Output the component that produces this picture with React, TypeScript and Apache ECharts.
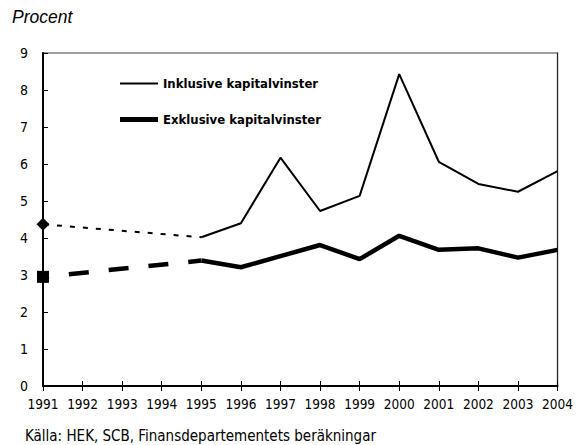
import React, { useEffect, useRef } from "react";
import * as echarts from "echarts";

const years = ["1991","1992","1993","1994","1995","1996","1997","1998","1999","2000","2001","2002","2003","2004"];
const inklusive = [null, null, null, null, 4.02, 4.40, 6.17, 4.73, 5.14, 8.43, 6.06, 5.46, 5.25, 5.81];
const exklusive = [null, null, null, null, 3.39, 3.21, 3.51, 3.81, 3.43, 4.06, 3.68, 3.72, 3.47, 3.68];
const inklusiveEarly = [4.37, null, null, null, 4.02, null, null, null, null, null, null, null, null, null];
const exklusiveEarly = [2.95, null, null, null, 3.39, null, null, null, null, null, null, null, null, null];
const yTicks = [0, 9, 1];

const NARROW = "'Liberation Sans Narrow', 'Arial Narrow', 'DejaVu Sans Condensed', sans-serif";
const INK = "Inklusive kapitalvinster";
const EXK = "Exklusive kapitalvinster";

function early(vals: (number | null)[], sym: string, size: number) {
  return vals.map((v, i) =>
    v === null ? "-" : i === 0 ? { value: v, symbol: sym, symbolSize: size } : { value: v, symbol: "none" }
  );
}

export default function App() {
  const ref = useRef<HTMLDivElement>(null);
  useEffect(() => {
    if (!ref.current) return;
    const chart = echarts.init(ref.current, undefined, { renderer: "svg" });
    chart.setOption({
      animation: false,
      backgroundColor: "#fff",
      title: [
        { text: "Procent", left: 12, top: 8, padding: 0, textStyle: { fontFamily: "'Liberation Sans', Arial, sans-serif", fontStyle: "italic", fontWeight: "normal", fontSize: 17.5, color: "#000" } },
        { text: "Källa: HEK, SCB, Finansdepartementets beräkningar", left: 25, top: 428, padding: 0, textStyle: { fontFamily: NARROW, fontWeight: "normal", fontSize: 15, color: "#000" } },
      ],
      legend: [
        { data: [INK], left: 120, top: 77, padding: 0, itemWidth: 38, itemHeight: 2, icon: "rect", textStyle: { fontFamily: NARROW, fontWeight: "bold", fontSize: 13, color: "#000" } },
        { data: [EXK], left: 120, top: 113, padding: 0, itemWidth: 38, itemHeight: 5, icon: "rect", textStyle: { fontFamily: NARROW, fontWeight: "bold", fontSize: 13, color: "#000" } },
      ],
      grid: { left: 43, right: 15, top: 53, bottom: 59, show: true, borderColor: "#808080", borderWidth: 1.5, backgroundColor: "transparent" },
      xAxis: [
        {
          type: "category", data: years, boundaryGap: false, position: "bottom",
          axisLine: { lineStyle: { color: "#000", width: 2 } },
          axisTick: { show: true, length: 5, interval: 0, lineStyle: { color: "#000", width: 1 } },
          axisLabel: { fontFamily: NARROW, fontSize: 13.5, color: "#000", margin: 11, interval: 0 },
          splitLine: { show: false },
        },
        {
          type: "category", data: years, boundaryGap: false, position: "bottom",
          axisLine: { show: false },
          axisTick: { show: true, inside: true, length: 5, interval: 0, lineStyle: { color: "#000", width: 1 } },
          axisLabel: { show: false },
          splitLine: { show: false },
        },
      ],
      yAxis: [
        {
          type: "value", min: yTicks[0], max: yTicks[1], interval: yTicks[2],
          axisLine: { show: true, lineStyle: { color: "#000", width: 2 } },
          axisTick: { show: true, inside: true, length: 5, lineStyle: { color: "#000", width: 1 } },
          axisLabel: { fontFamily: NARROW, fontSize: 14, color: "#000", margin: 15 },
          splitLine: { show: false },
        },
        {
          type: "value", min: yTicks[0], max: yTicks[1], interval: yTicks[2], position: "right",
          axisLine: { show: true, lineStyle: { color: "#222", width: 1 } },
          axisTick: { show: false }, axisLabel: { show: false }, splitLine: { show: false },
        },
      ],
      series: [
        {
          name: INK, type: "line", data: inklusive, showSymbol: false, symbol: "none",
          lineStyle: { color: "#000", width: 2 }, itemStyle: { color: "#000" }, z: 3,
        },
        {
          name: EXK, type: "line", data: exklusive, showSymbol: false, symbol: "none",
          lineStyle: { color: "#000", width: 4.5 }, itemStyle: { color: "#000" }, z: 3,
        },
        {
          name: "inkEarly", type: "line", data: early(inklusiveEarly, "diamond", 13), connectNulls: true, showSymbol: true,
          lineStyle: { color: "#000", width: 2, type: [5, 8], dashOffset: 12 }, itemStyle: { color: "#000" }, z: 4,
        },
        {
          name: "exkEarly", type: "line", data: early(exklusiveEarly, "rect", 12), connectNulls: true, showSymbol: true,
          lineStyle: { color: "#000", width: 4.5, type: [20, 20], dashOffset: 14 }, itemStyle: { color: "#000" }, z: 4,
        },
      ],
    });
    return () => chart.dispose();
  }, []);
  return <div ref={ref} style={{ width: 576, height: 445, position: "absolute", left: 0, top: 0 }} />;
}
